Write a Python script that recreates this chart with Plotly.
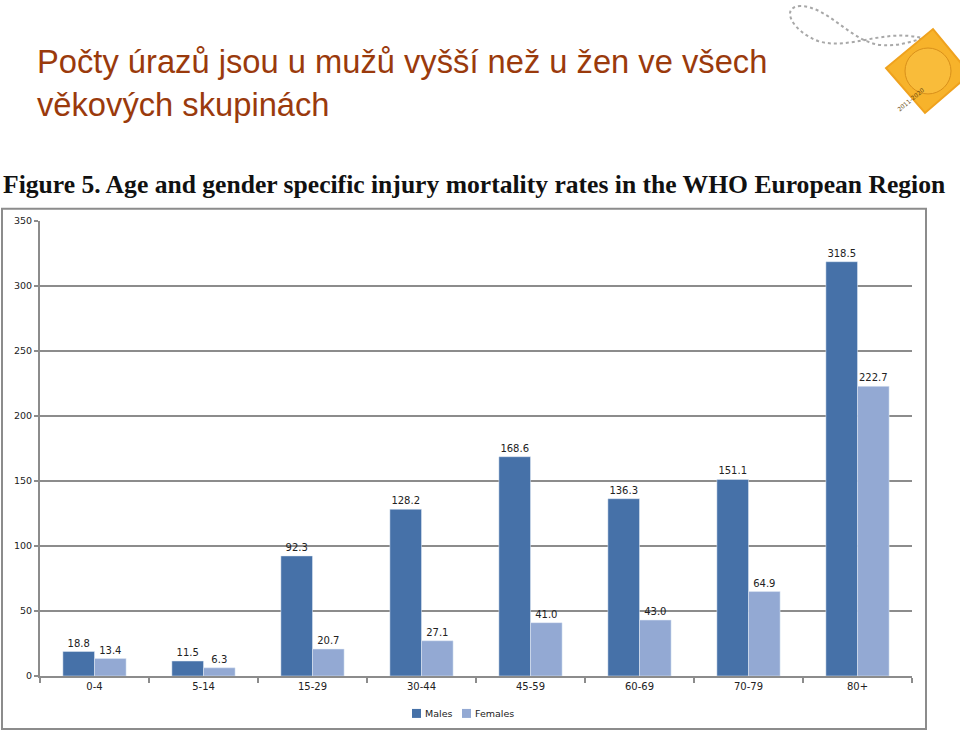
import plotly.graph_objects as go

categories = ["0-4", "5-14", "15-29", "30-44", "45-59", "60-69", "70-79", "80+"]
males = [18.8, 11.5, 92.3, 128.2, 168.6, 136.3, 151.1, 318.5]
females = [13.4, 6.3, 20.7, 27.1, 41.0, 43.0, 64.9, 222.7]
y_ticks = [0, 50, 100, 150, 200, 250, 300, 350]
series_names = ["Males", "Females"]
series_colors = ["#4671A8", "#93A9D3"]

W, H = 960, 732
VS = 0.9866  # vertical compensation observed in rendering


def px(x):
    return x / W


def py(y):
    y2 = H / 2 + (y - H / 2) / VS
    return 1 - y2 / H


fig = go.Figure()
for name, vals, col in zip(series_names, [males, females], series_colors):
    fig.add_trace(go.Bar(
        x=categories, y=vals, name=name, marker_color=col, showlegend=False,
        text=[f"{v:.1f}" for v in vals], textposition="outside", cliponaxis=False,
        textfont=dict(family="DejaVu Sans", size=10, color="#222222"),
    ))

shapes = []
# outer chart frame
shapes.append(dict(type="rect", xref="paper", yref="paper",
                   x0=px(2), x1=px(926), y0=py(729), y1=py(208),
                   line=dict(color="#8C8C8C", width=2), fillcolor="rgba(0,0,0,0)", layer="below"))

# logo: chain
chain = (f"M {px(926)} {py(38)} "
         f"C {px(885)} {py(26)}, {px(850)} {py(50)}, {px(818)} {py(40)} "
         f"C {px(792)} {py(30)}, {px(780)} {py(6)}, {px(800)} {py(5)} "
         f"C {px(828)} {py(5)}, {px(850)} {py(40)}, {px(880)} {py(44)} "
         f"C {px(905)} {py(46)}, {px(915)} {py(37)}, {px(930)} {py(37)}")
shapes.append(dict(type="path", xref="paper", yref="paper", path=chain,
                   line=dict(color="#A8A8A8", width=2, dash="dot")))
# logo: diamond tag
cx, cy, r = 928, 70, 42
diamond = (f"M {px(cx + 5)} {py(cy - r)} L {px(cx + r)} {py(cy + 3)} "
           f"L {px(cx - 3)} {py(cy + r)} L {px(cx - r)} {py(cy - 3)} Z")
shapes.append(dict(type="path", xref="paper", yref="paper", path=diamond,
                   fillcolor="#F7B32B", line=dict(color="#EFA21E", width=2)))
shapes.append(dict(type="circle", xref="paper", yref="paper",
                   x0=px(cx - 23), x1=px(cx + 23), y0=py(cy + 23), y1=py(cy - 23),
                   fillcolor="#F9BC3A", line=dict(color="#D9901A", width=1)))

# manual legend
legend_items = [(412, series_names[0], series_colors[0]), (462, series_names[1], series_colors[1])]
annotations = []
for lx, name, col in legend_items:
    shapes.append(dict(type="rect", xref="paper", yref="paper",
                       x0=px(lx), x1=px(lx + 9), y0=py(718), y1=py(709),
                       fillcolor=col, line=dict(width=0)))
    annotations.append(dict(text=name, xref="paper", yref="paper", x=px(lx + 11), y=py(713.5),
                            xanchor="left", yanchor="middle", showarrow=False,
                            font=dict(family="DejaVu Sans", size=9.5, color="#222222")))

annotations += [
    dict(text="Počty úrazů jsou u mužů vyšší než u žen ve všech<br>věkových skupinách",
         xref="paper", yref="paper", x=px(35), y=py(40), xanchor="left", yanchor="top",
         align="left", showarrow=False,
         font=dict(family="Liberation Sans, Arial", size=32.7, color="#9A3A0C")),
    dict(text="<b>Figure 5. Age and gender specific injury mortality rates in the WHO European Region</b>",
         xref="paper", yref="paper", x=px(1), y=py(184), xanchor="left", yanchor="middle",
         showarrow=False,
         font=dict(family="Liberation Serif, Times New Roman", size=25.6, color="#111111")),
    dict(text="2011-2020", xref="paper", yref="paper", x=px(cx), y=py(cy + 12),
         showarrow=False, textangle=-40,
         font=dict(family="DejaVu Sans", size=6, color="#6B4A10")),
]

fig.update_layout(
    width=W, height=H,
    margin=dict(l=0, r=0, t=0, b=0),
    paper_bgcolor="white", plot_bgcolor="white",
    barmode="group", bargap=0.42, bargroupgap=0,
    showlegend=False,
    xaxis=dict(domain=[px(40), px(912)], showgrid=False,
               showline=True, linecolor="#8C8C8C", linewidth=2,
               ticks="outside", tickson="boundaries", ticklen=5, tickcolor="#8C8C8C", tickwidth=2,
               tickfont=dict(family="DejaVu Sans", size=10, color="#222222")),
    yaxis=dict(domain=[py(676), py(220)], range=[0, 350], tickvals=y_ticks,
               showgrid=True, gridcolor="#8C8C8C", gridwidth=1.5,
               showline=True, linecolor="#8C8C8C", linewidth=2, zeroline=False,
               ticks="outside", ticklen=4, tickcolor="#8C8C8C", tickwidth=1.5,
               tickfont=dict(family="DejaVu Sans", size=9.5, color="#222222")),
    shapes=shapes, annotations=annotations,
    font=dict(family="DejaVu Sans"),
)

fig.write_html("out.html", config={"displayModeBar": False},
               post_script="document.body.style.margin='0';document.body.style.overflow='hidden';")
